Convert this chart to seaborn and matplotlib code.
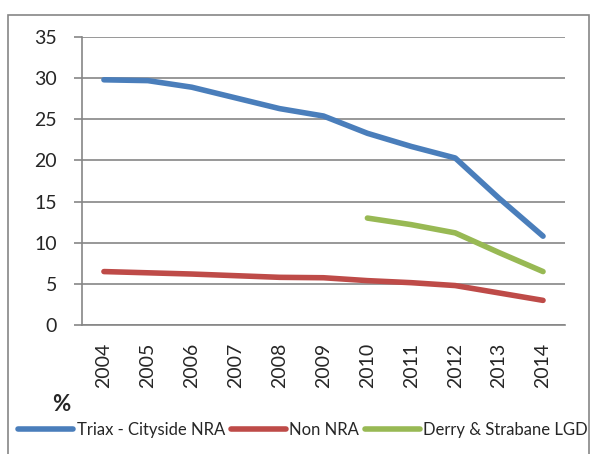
import numpy as np
import pandas as pd
import matplotlib.pyplot as plt
import seaborn as sns
from matplotlib.patches import Rectangle

years = [2004, 2005, 2006, 2007, 2008, 2009, 2010, 2011, 2012, 2013, 2014]
triax = [29.8, 29.7, 28.9, 27.6, 26.3, 25.4, 23.3, 21.7, 20.3, 15.4, 10.8]
non_nra = [6.5, 6.35, 6.2, 6.0, 5.8, 5.75, 5.4, 5.15, 4.8, 3.9, 3.0]
derry = [np.nan, np.nan, np.nan, np.nan, np.nan, np.nan, 13.0, 12.2, 11.2, 8.8, 6.5]

series_names = ["Triax - Cityside NRA", "Non NRA", "Derry & Strabane LGD"]
colors = ["#4A7EBB", "#BE4B48", "#98B954"]

df = pd.DataFrame({"Year": years, series_names[0]: triax,
                   series_names[1]: non_nra, series_names[2]: derry})
long = df.melt(id_vars="Year", var_name="Series", value_name="Value").dropna()

sns.set_style("white")
plt.rcParams['font.family'] = ['Lato', 'DejaVu Sans']
grey = "#868686"

fig = plt.figure(figsize=(5.91, 4.54), dpi=100)
ax = fig.add_axes([0.1387, 0.284, 0.8173, 0.6345])

sns.lineplot(data=long, x="Year", y="Value", hue="Series", hue_order=series_names,
             palette=colors, linewidth=4, ax=ax, legend=False, sort=True)

ax.set_xlim(2003.5, 2014.5)
ax.set_ylim(0, 35)
ax.set_yticks(range(0, 36, 5))
ax.set_xticks(years)
ax.set_xticklabels([str(y) for y in years], rotation=90, fontsize=14)
ax.set_xticks(np.arange(2003.5, 2015, 1), minor=True)
ax.tick_params(axis='x', which='major', length=0, pad=13)
ax.tick_params(axis='x', which='minor', length=6, color=grey, width=1.2)
ax.tick_params(axis='y', length=6, color=grey, width=1.2, labelsize=14, pad=12, left=True)
ax.set_xlabel("")
ax.set_ylabel("")
ax.yaxis.grid(True, color=grey, linewidth=1.2)
ax.set_axisbelow(True)
for s in ["top", "right"]:
    ax.spines[s].set_visible(False)
for s in ["left", "bottom"]:
    ax.spines[s].set_color(grey)
    ax.spines[s].set_linewidth(1.2)

# outer chart border
fig.patches.append(Rectangle((8 / 591, -0.01), 581 / 591, 1 - 15 / 454 + 0.01,
                             transform=fig.transFigure, fill=False,
                             edgecolor=grey, linewidth=1.2))

fig.text(0.088, 0.11, "%", fontsize=16, fontweight="bold", va="center")

handles = [plt.Line2D([], [], color=c, linewidth=4) for c in colors]
fig.legend(handles, series_names, loc="center", bbox_to_anchor=(0.513, 0.053),
           ncol=3, frameon=False, fontsize=12, handlelength=3.3,
           handletextpad=0.2, columnspacing=0.35)

fig.savefig("out.png", dpi=100)
